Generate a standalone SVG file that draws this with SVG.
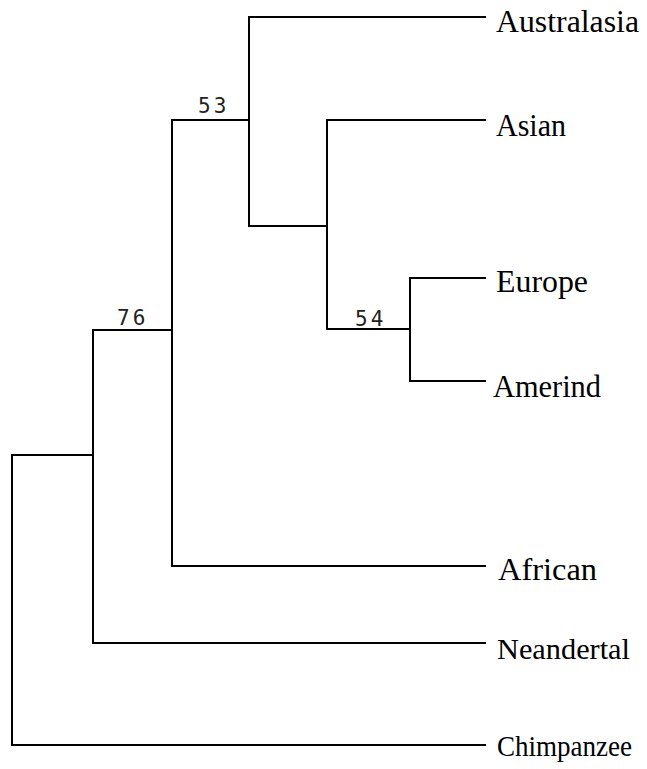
<svg xmlns="http://www.w3.org/2000/svg" width="647" height="769" viewBox="0 0 647 769">
<style>
.e{fill:none;stroke:#000;stroke-width:2;stroke-linecap:square}
.l{font-family:"Liberation Serif","Times New Roman",serif;font-size:31px;fill:#000}
.b{font-family:"DejaVu Sans Mono","Liberation Mono",monospace;font-size:21px;letter-spacing:3px;fill:#222}
</style>
<rect width="647" height="769" fill="#fff"/>
<g id="connectors">
<path class="e" d="M12,455 V745 H485"/>
<path class="e" d="M12,455 H93"/>
<path class="e" d="M93,330 V643 H485"/>
<path class="e" d="M93,330 H172"/>
<path class="e" d="M172,120 V566 H485"/>
<path class="e" d="M172,120 H249"/>
<path class="e" d="M249,17 V226 H327"/>
<path class="e" d="M249,17 H485"/>
<path class="e" d="M327,120 V329 H410"/>
<path class="e" d="M327,120 H485"/>
<path class="e" d="M410,278 V381 H485"/>
<path class="e" d="M410,278 H485"/>
</g>
<g id="support">
<text class="b" x="198" y="113">53</text>
<text class="b" x="117" y="325">76</text>
<text class="b" x="355" y="326">54</text>
</g>
<g id="n-australasia"><text class="l" x="496" y="32" textLength="143" lengthAdjust="spacingAndGlyphs">Australasia</text></g>
<g id="n-asian"><text class="l" x="496" y="136" textLength="70" lengthAdjust="spacingAndGlyphs">Asian</text></g>
<g id="n-europe"><text class="l" x="496" y="292" textLength="92" lengthAdjust="spacingAndGlyphs">Europe</text></g>
<g id="n-amerind"><text class="l" x="493" y="397" textLength="108" lengthAdjust="spacingAndGlyphs">Amerind</text></g>
<g id="n-african"><text class="l" x="498" y="580" textLength="99" lengthAdjust="spacingAndGlyphs">African</text></g>
<g id="n-neandertal"><text class="l" x="497" y="659" style="font-size:29px" textLength="133" lengthAdjust="spacingAndGlyphs">Neandertal</text></g>
<g id="n-chimpanzee"><text class="l" x="497" y="756" style="font-size:29px" textLength="135" lengthAdjust="spacingAndGlyphs">Chimpanzee</text></g>
</svg>
